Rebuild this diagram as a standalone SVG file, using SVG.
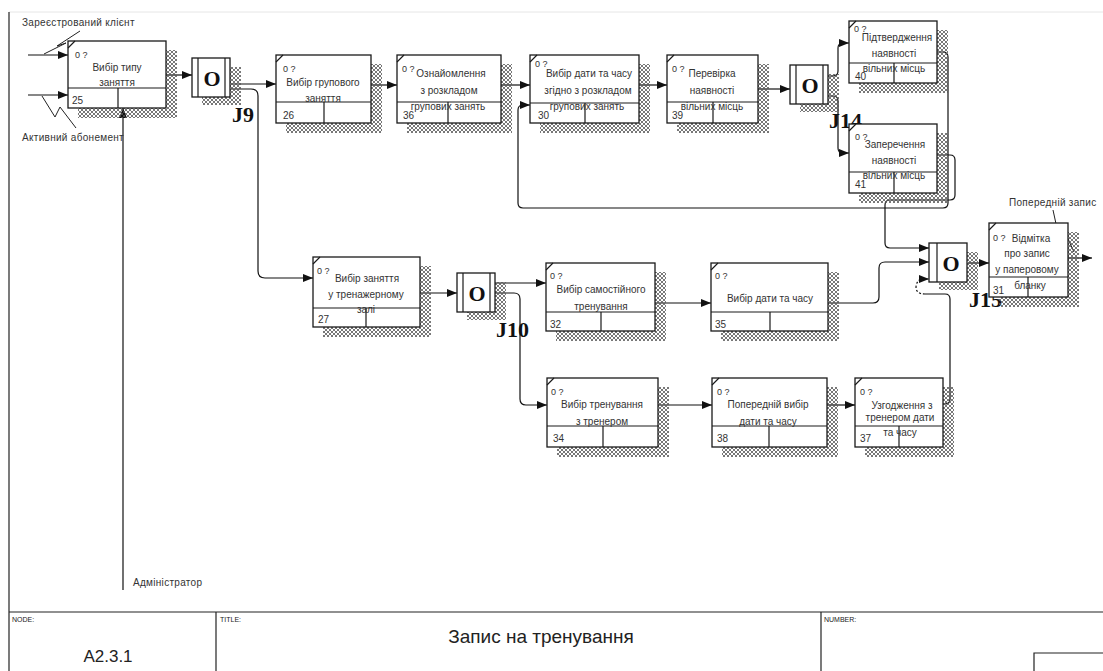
<svg xmlns="http://www.w3.org/2000/svg" width="1103" height="671" viewBox="0 0 1103 671">
  <style>
    .frame { stroke: #222; stroke-width: 1.2; fill: none; }
    .box { fill: #fff; stroke: #1a1a1a; stroke-width: 1.3; }
    .div { stroke: #1a1a1a; stroke-width: 1.2; fill: none; }
    .shade { fill: url(#hatch); }
    .t { font-family: "Liberation Sans", Arial, sans-serif; font-size: 10px; fill: #333; }
    .c { text-anchor: middle; }
    .s { font-size: 9px; }
    .lb { font-family: "Liberation Sans", Arial, sans-serif; font-size: 10px; fill: #333; letter-spacing: 0.3px; }
    .jl { font-family: "Liberation Serif", "Times New Roman", serif; font-size: 22px; font-weight: bold; fill: #111; }
    .jo { font-family: "Liberation Serif", "Times New Roman", serif; font-size: 22px; font-weight: bold; fill: #111; text-anchor: middle; }
    .ln { stroke: #111; stroke-width: 1.2; fill: none; }
    .arr { marker-end: url(#ah); }
    .sq { stroke: #222; stroke-width: 1; fill: none; }
    .ft { font-family: "Liberation Sans", Arial, sans-serif; fill: #222; }
  </style>
  <defs>
    <pattern id="hatch" width="4" height="4" patternUnits="userSpaceOnUse">
      <path d="M0,0 L4,4 M4,0 L0,4" stroke="#555" stroke-width="0.8"/>
    </pattern>
    <marker id="ah" markerWidth="10" markerHeight="8" refX="10" refY="4" orient="auto" markerUnits="userSpaceOnUse">
      <path d="M0,0 L10,4 L0,8 Z" fill="#111"/>
    </marker>
  </defs>

  <rect width="1103" height="671" fill="#fff"/>

  <!-- sheet frame and title block -->
  <g id="frame">
    <line x1="9" y1="12" x2="1103" y2="12" stroke="#e6e6e6" stroke-width="1"/>
    <line class="frame" x1="9" y1="12" x2="9" y2="671"/>
    <line class="frame" x1="9" y1="612" x2="1103" y2="612"/>
    <line class="frame" x1="216" y1="612" x2="216" y2="671"/>
    <line class="frame" x1="821" y1="612" x2="821" y2="671"/>
    <path class="frame" d="M1103,653 H1034 V671"/>
    <text class="ft" x="12" y="622" font-size="7">NODE:</text>
    <text class="ft" x="108" y="662" font-size="17" text-anchor="middle">A2.3.1</text>
    <text class="ft" x="220" y="622" font-size="7">TITLE:</text>
    <text class="ft" x="541" y="643" font-size="19" text-anchor="middle">Запис на тренування</text>
    <text class="ft" x="824" y="622" font-size="7">NUMBER:</text>
  </g>

  <!-- connectors -->
  <g id="connectors">
    <path class="ln arr" d="M28,55 H68"/>
    <path class="ln arr" d="M28,95 H68"/>
    <path class="ln arr" d="M123,590 V108"/>
    <path class="sq" d="M80,31 L57,46 L66,43 L44,54"/>
    <path class="sq" d="M42,96 L55,117 L60,107 L76,128"/>

    <path class="ln arr" d="M166,75 H192"/>
    <path class="ln arr" d="M231,84 H276"/>
    <path class="ln arr" d="M231,89 H251 Q258,89 258,96 V271 Q258,278 265,278 H313"/>
    <path class="ln arr" d="M371,85 H397"/>
    <path class="ln arr" d="M501,85 H530"/>
    <path class="ln arr" d="M639,85 H667"/>
    <path class="ln arr" d="M758,89 H790"/>
    <path class="ln arr" d="M828,76 H833 Q838,76 838,71 V48 Q838,43 843,43 H849"/>
    <path class="ln arr" d="M828,96 H833 Q838,96 838,101 V148 Q838,153 843,153 H849"/>
    <path class="ln arr" d="M937,52 H943 Q948,52 948,57 V203 Q948,208 943,208 H523 Q518,208 518,203 V110 Q518,105 523,105 H530"/>
    <path class="ln arr" d="M937,155 H950 Q955,155 955,160 V195 Q955,200 950,200 H890 Q885,200 885,205 V243 Q885,248 890,248 H929"/>

    <path class="ln arr" d="M420,293 H457"/>
    <path class="ln arr" d="M495,283 H546"/>
    <path class="ln arr" d="M495,293 H514 Q520,293 520,299 V399 Q520,405 526,405 H547"/>
    <path class="ln arr" d="M655,303 H711"/>
    <path class="ln arr" d="M828,303 H873 Q879,303 879,297 V268 Q879,262 885,262 H929"/>
    <path class="ln arr" d="M658,405 H712"/>
    <path class="ln arr" d="M827,405 H855"/>
    <path class="ln" d="M943,404 H945 Q950,404 950,399 V299 Q950,294 945,294 H925"/>
    <path class="ln arr" stroke-dasharray="2,2" d="M925,294 Q916,294 916,287 Q917,279 923,279 H929"/>
    <path class="ln arr" d="M968,263 H989"/>
    <path class="ln arr" d="M1068,258 H1092"/>
    <path class="sq" d="M1053,210 L1058,233 L1064,230 L1074,252"/>
  </g>

  <!-- boundary labels -->
  <g id="labels">
    <text class="lb" x="22" y="26">Зареєстрований клієнт</text>
    <text class="lb" x="22" y="141">Активний абонемент</text>
    <text class="lb" x="133" y="586" letter-spacing="0.9">Адміністратор</text>
    <text class="lb" x="1009" y="206">Попередній запис</text>
  </g>

  <!-- junctions -->
  <g id="j9">
    <path class="shade" d="M230,67 h11 V105 H202 V97 H230 Z"/>
    <rect class="box" x="192" y="58" width="38" height="39"/>
    <line class="div" x1="198" y1="58" x2="198" y2="97"/>
    <line class="div" x1="225" y1="58" x2="225" y2="97"/>
    <text class="jo" x="212" y="86">O</text>
    <text class="jl" x="232" y="122">J9</text>
  </g>
  <g id="j10">
    <path class="shade" d="M495,282 h11 V320 H467 V312 H495 Z"/>
    <rect class="box" x="457" y="273" width="38" height="39"/>
    <line class="div" x1="463" y1="273" x2="463" y2="312"/>
    <line class="div" x1="490" y1="273" x2="490" y2="312"/>
    <text class="jo" x="477" y="301">O</text>
    <text class="jl" x="496" y="337">J10</text>
  </g>
  <g id="j14">
    <path class="shade" d="M828,74 h11 V112 H800 V104 H828 Z"/>
    <rect class="box" x="790" y="65" width="38" height="39"/>
    <line class="div" x1="796" y1="65" x2="796" y2="104"/>
    <line class="div" x1="823" y1="65" x2="823" y2="104"/>
    <text class="jo" x="810" y="93">O</text>
    <text class="jl" x="829" y="128">J14</text>
  </g>
  <g id="j15">
    <path class="shade" d="M967,252 h11 V290 H939 V282 H967 Z"/>
    <rect class="box" x="929" y="243" width="38" height="39"/>
    <line class="div" x1="937" y1="243" x2="937" y2="282"/>
    <text class="jo" x="951" y="271">O</text>
    <text class="jl" x="969" y="307">J15</text>
  </g>

  <!-- units of behaviour -->
  <g id="b25">
    <path class="shade" d="M166,50 h11 V118 H78 V108 H166 Z"/>
    <rect class="box" x="68" y="41" width="98" height="67"/>
    <path class="div" d="M68,88 H166 M118,88 V108 M68,48 L75,41"/>
    <text class="t s" x="75" y="58">0 ?</text>
    <text class="t c" x="117" y="71">Вибір типу</text>
    <text class="t c" x="117" y="86">заняття</text>
    <text class="t" x="72" y="104">25</text>
  </g>
  <g id="b26">
    <path class="shade" d="M371,64 h11 V133 H286 V123 H371 Z"/>
    <rect class="box" x="276" y="55" width="95" height="68"/>
    <path class="div" d="M276,102 H371 M324,102 V123 M276,62 L283,55"/>
    <text class="t s" x="283" y="72">0 ?</text>
    <text class="t c" x="323" y="86">Вибір групового</text>
    <text class="t c" x="323" y="102">заняття</text>
    <text class="t" x="283" y="119">26</text>
  </g>
  <g id="b36">
    <path class="shade" d="M501,64 h11 V133 H407 V123 H501 Z"/>
    <rect class="box" x="397" y="55" width="104" height="68"/>
    <path class="div" d="M397,102 H501 M448,102 V123 M397,62 L404,55"/>
    <text class="t s" x="402" y="72">0 ?</text>
    <text class="t c" x="451" y="77">Ознайомлення</text>
    <text class="t c" x="449" y="94">з розкладом</text>
    <text class="t c" x="448" y="110">групових занять</text>
    <text class="t" x="403" y="119">36</text>
  </g>
  <g id="b30">
    <path class="shade" d="M639,64 h11 V133 H540 V123 H639 Z"/>
    <rect class="box" x="530" y="55" width="109" height="68"/>
    <path class="div" d="M530,103 H639 M585,103 V123 M530,62 L537,55"/>
    <text class="t s" x="535" y="67">0 ?</text>
    <text class="t c" x="589" y="77">Вибір дати та часу</text>
    <text class="t c" x="588" y="94">згідно з розкладом</text>
    <text class="t c" x="587" y="110">групових занять</text>
    <text class="t" x="538" y="119">30</text>
  </g>
  <g id="b39">
    <path class="shade" d="M758,64 h11 V133 H677 V123 H758 Z"/>
    <rect class="box" x="667" y="55" width="91" height="68"/>
    <path class="div" d="M667,102 H758 M713,102 V123 M667,62 L674,55"/>
    <text class="t s" x="672" y="72">0 ?</text>
    <text class="t c" x="712" y="77">Перевірка</text>
    <text class="t c" x="712" y="94">наявності</text>
    <text class="t c" x="712" y="110">вільних місць</text>
    <text class="t" x="672" y="119">39</text>
  </g>
  <g id="b40">
    <path class="shade" d="M937,30 h11 V93 H859 V83 H937 Z"/>
    <rect class="box" x="849" y="21" width="88" height="62"/>
    <path class="div" d="M849,63 H937 M894,63 V83 M849,28 L856,21"/>
    <text class="t s" x="854" y="32">0 ?</text>
    <text class="t c" x="897" y="41">Підтвердження</text>
    <text class="t c" x="894" y="57">наявності</text>
    <text class="t c" x="894" y="72">вільних місць</text>
    <text class="t" x="855" y="80">40</text>
  </g>
  <g id="b41">
    <path class="shade" d="M937,133 h11 V203 H859 V193 H937 Z"/>
    <rect class="box" x="849" y="124" width="88" height="69"/>
    <path class="div" d="M849,172 H937 M894,172 V193 M849,131 L856,124"/>
    <text class="t s" x="855" y="140">0 ?</text>
    <text class="t c" x="895" y="148">Заперечення</text>
    <text class="t c" x="894" y="164">наявності</text>
    <text class="t c" x="894" y="179">вільних місць</text>
    <text class="t" x="855" y="188">41</text>
  </g>
  <g id="b27">
    <path class="shade" d="M420,266 h11 V337 H323 V327 H420 Z"/>
    <rect class="box" x="313" y="257" width="107" height="70"/>
    <path class="div" d="M313,308 H420 M366,308 V327 M313,264 L320,257"/>
    <text class="t s" x="317" y="274">0 ?</text>
    <text class="t c" x="367" y="282">Вибір заняття</text>
    <text class="t c" x="366" y="298">у тренажерному</text>
    <text class="t c" x="366" y="313">залі</text>
    <text class="t" x="318" y="323">27</text>
  </g>
  <g id="b32">
    <path class="shade" d="M655,272 h11 V341 H556 V331 H655 Z"/>
    <rect class="box" x="546" y="263" width="109" height="68"/>
    <path class="div" d="M546,312 H655 M601,312 V331 M546,270 L553,263"/>
    <text class="t s" x="550" y="279">0 ?</text>
    <text class="t c" x="601" y="293">Вибір самостійного</text>
    <text class="t c" x="601" y="310">тренування</text>
    <text class="t" x="550" y="328">32</text>
  </g>
  <g id="b35">
    <path class="shade" d="M828,272 h11 V341 H721 V331 H828 Z"/>
    <rect class="box" x="711" y="263" width="117" height="68"/>
    <path class="div" d="M711,312 H828 M770,312 V331 M711,270 L718,263"/>
    <text class="t s" x="715" y="279">0 ?</text>
    <text class="t c" x="770" y="302">Вибір дати та часу</text>
    <text class="t" x="715" y="328">35</text>
  </g>
  <g id="b34">
    <path class="shade" d="M658,387 h11 V457 H557 V447 H658 Z"/>
    <rect class="box" x="547" y="378" width="111" height="69"/>
    <path class="div" d="M547,426 H658 M603,426 V447 M547,385 L554,378"/>
    <text class="t s" x="551" y="395">0 ?</text>
    <text class="t c" x="602" y="408">Вибір тренування</text>
    <text class="t c" x="602" y="425">з тренером</text>
    <text class="t" x="553" y="442">34</text>
  </g>
  <g id="b38">
    <path class="shade" d="M827,387 h11 V457 H722 V447 H827 Z"/>
    <rect class="box" x="712" y="378" width="115" height="69"/>
    <path class="div" d="M712,426 H827 M769,426 V447 M712,385 L719,378"/>
    <text class="t s" x="717" y="395">0 ?</text>
    <text class="t c" x="768" y="408">Попередній вибір</text>
    <text class="t c" x="768" y="425">дати та часу</text>
    <text class="t" x="717" y="442">38</text>
  </g>
  <g id="b37">
    <path class="shade" d="M943,387 h11 V457 H865 V447 H943 Z"/>
    <rect class="box" x="855" y="378" width="88" height="69"/>
    <path class="div" d="M855,426 H943 M899,426 V447 M855,385 L862,378"/>
    <text class="t s" x="860" y="395">0 ?</text>
    <text class="t c" x="902" y="409">Узгодження з</text>
    <text class="t c" x="900" y="421">тренером дати</text>
    <text class="t c" x="900" y="436">та часу</text>
    <text class="t" x="860" y="442">37</text>
  </g>
  <g id="b31">
    <path class="shade" d="M1068,232 h11 V307 H999 V297 H1068 Z"/>
    <rect class="box" x="989" y="223" width="79" height="74"/>
    <path class="div" d="M989,277 H1068 M1028,277 V297 M989,230 L996,223"/>
    <text class="t s" x="993" y="241">0 ?</text>
    <text class="t c" x="1031" y="242">Відмітка</text>
    <text class="t c" x="1027" y="257">про запис</text>
    <text class="t c" x="1027" y="273">у паперовому</text>
    <text class="t c" x="1030" y="289">бланку</text>
    <text class="t" x="993" y="294">31</text>
  </g>
</svg>
